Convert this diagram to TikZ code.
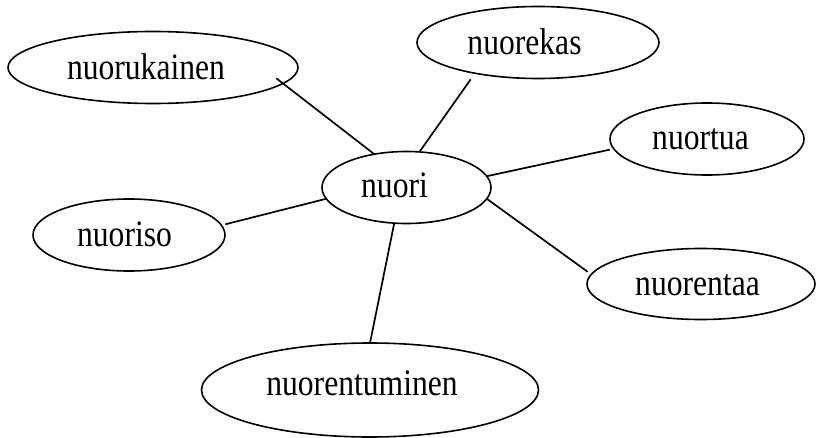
\documentclass[tikz,border=0pt]{standalone}
\usepackage{fontspec}
\setmainfont{Liberation Serif}
\usetikzlibrary{shapes.geometric}
\tikzset{
  bubble/.style={ellipse, draw, line width=1.6pt, inner sep=0pt, outer sep=0pt},
  word/.style={anchor=base, inner sep=0pt, font=\fontsize{31.6}{36}\selectfont},
  link/.style={line width=1.7pt}
}
\newcommand{\tallword}[1]{\scalebox{1}[1.18]{#1}}
\begin{document}
\begin{tikzpicture}[x=1pt,y=-1pt]
\useasboundingbox (0,0) rectangle (818,438);
% ellipses
\node[bubble, minimum width=290pt, minimum height=72pt] (nuorukainen) at (153,67.5) {};
\node[bubble, minimum width=242pt, minimum height=72pt] (nuorekas) at (538,42.5) {};
\node[bubble, minimum width=194pt, minimum height=72pt] (nuortua) at (707,139) {};
\node[bubble, minimum width=169pt, minimum height=72pt] (nuori) at (406.5,187.5) {};
\node[bubble, minimum width=192pt, minimum height=72pt] (nuoriso) at (129,235) {};
\node[bubble, minimum width=228pt, minimum height=71pt] (nuorentaa) at (701,284) {};
\node[bubble, minimum width=337pt, minimum height=94pt] (nuorentuminen) at (370,390) {};
% words
\node[word] (t1) at (146,80) {\tallword{nuorukainen}};
\node[word] (t2) at (524.5,55) {\tallword{nuorekas}};
\node[word] (t3) at (700.5,150) {\tallword{nuortua}};
\node[word] (t4) at (394.5,198) {\tallword{nuori}};
\node[word] (t5) at (124.5,247) {\tallword{nuoriso}};
\node[word] (t6) at (697.5,295) {\tallword{nuorentaa}};
\node[word] (t7) at (362,395) {\tallword{nuorentuminen}};
% connectors
\draw[link, shorten >=-8.4pt] (nuori.134) -- (nuorukainen.-7.3);
\draw[link, shorten >=7.5pt] (nuori.70.6) -- (nuorekas.-154.3);
\draw[link, shorten >=4pt] (nuori.8.1) -- (nuortua.186.8);
\draw[link, shorten >=4pt] (nuori.188.2) -- (nuoriso.6.8);
\draw[link, shorten >=4.5pt] (nuori.-8.1) -- (nuorentaa.175.2);
\draw[link] (nuori.251.6) -- (nuorentuminen.90);
\end{tikzpicture}
\end{document}
